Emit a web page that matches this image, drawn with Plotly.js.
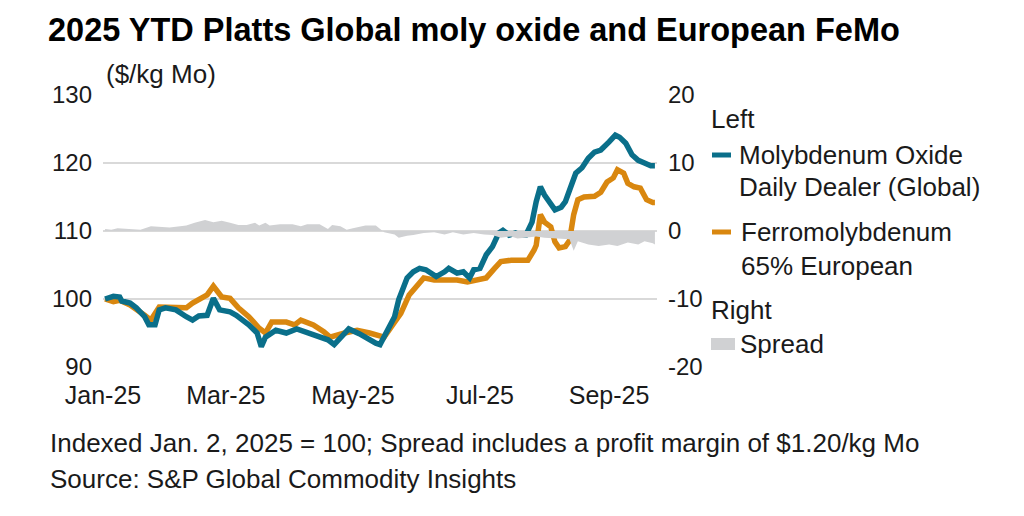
<!DOCTYPE html>
<html>
<head>
<meta charset="utf-8">
<script src="https://cdn.plot.ly/plotly-3.0.1.min.js"></script>
<style>
  html, body { margin: 0; padding: 0; background: #ffffff; }
  #chart { width: 1024px; height: 516px; }
</style>
</head>
<body>
<div id="chart"></div>
<script>
// Molybdenum oxide daily dealer (global), indexed Jan. 2, 2025 = 100
const oxideDates = [
  '2025-01-02','2025-01-06','2025-01-09','2025-01-10','2025-01-14','2025-01-17','2025-01-21','2025-01-23',
  '2025-01-26','2025-01-28','2025-01-31','2025-02-05','2025-02-10','2025-02-13','2025-02-16','2025-02-20',
  '2025-02-23','2025-02-26','2025-03-03','2025-03-06','2025-03-12','2025-03-16','2025-03-18','2025-03-20',
  '2025-03-25','2025-03-30','2025-04-04','2025-04-09','2025-04-15','2025-04-19','2025-04-22','2025-04-25',
  '2025-04-29','2025-05-04','2025-05-09','2025-05-12','2025-05-14','2025-05-16','2025-05-21','2025-05-23',
  '2025-05-27','2025-05-30','2025-06-02','2025-06-05','2025-06-10','2025-06-14','2025-06-16','2025-06-20',
  '2025-06-23','2025-06-26','2025-06-28','2025-07-01','2025-07-04','2025-07-07','2025-07-10','2025-07-12',
  '2025-07-15','2025-07-18','2025-07-20','2025-07-23','2025-07-26','2025-07-28','2025-07-30','2025-08-01',
  '2025-08-04','2025-08-06','2025-08-09','2025-08-11','2025-08-13','2025-08-16','2025-08-19','2025-08-22',
  '2025-08-25','2025-08-28','2025-09-01','2025-09-04','2025-09-06','2025-09-09','2025-09-12','2025-09-15',
  '2025-09-18','2025-09-21','2025-09-23'
];
const oxideValues = [
  100.0, 100.4, 100.3, 99.7, 99.4, 98.7, 97.4, 96.2,
  96.2, 98.4, 98.7, 98.4, 97.4, 96.9, 97.5, 97.6,
  100.1, 98.4, 98.1, 97.6, 96.2, 95.0, 93.0, 94.4,
  95.4, 95.0, 95.6, 95.0, 94.3, 94.0, 93.3, 94.3,
  95.6, 94.9, 93.9, 93.5, 93.3, 94.4, 97.4, 99.9,
  103.1, 104.0, 104.5, 104.3, 103.3, 104.0, 104.5, 103.8,
  104.0, 103.1, 104.3, 104.5, 106.5, 107.7, 109.7, 110.1,
  109.4, 109.7, 109.4, 109.4, 111.3, 114.3, 116.5, 115.3,
  113.8, 113.1, 113.5, 114.3, 116.0, 118.5, 119.3, 120.7,
  121.6, 121.9, 123.1, 124.1, 123.8, 122.9, 121.2, 120.4,
  120.0, 119.6, 119.6
];

// Ferromolybdenum 65% European, indexed Jan. 2, 2025 = 100
const femoDates = [
  '2025-01-02','2025-01-06','2025-01-09','2025-01-14','2025-01-21','2025-01-24','2025-01-28','2025-02-05',
  '2025-02-10','2025-02-13','2025-02-20','2025-02-23','2025-02-27','2025-03-03','2025-03-07','2025-03-12',
  '2025-03-17','2025-03-20','2025-03-23','2025-03-30','2025-04-03','2025-04-06','2025-04-12','2025-04-17',
  '2025-04-20','2025-04-27','2025-05-03','2025-05-09','2025-05-12','2025-05-16','2025-05-21','2025-05-24',
  '2025-05-28','2025-05-31','2025-06-04','2025-06-09','2025-06-20','2025-06-25','2025-06-29','2025-07-04',
  '2025-07-08','2025-07-11','2025-07-16','2025-07-24','2025-07-27','2025-07-28','2025-07-30','2025-08-01',
  '2025-08-04','2025-08-06','2025-08-08','2025-08-11','2025-08-13','2025-08-15','2025-08-17','2025-08-20',
  '2025-08-25','2025-08-28','2025-08-31','2025-09-03','2025-09-05','2025-09-08','2025-09-10','2025-09-13',
  '2025-09-16','2025-09-19','2025-09-22','2025-09-23'
];
const femoValues = [
  100.0, 99.6, 99.8, 99.1, 97.6, 96.9, 98.8, 98.8,
  98.7, 99.4, 100.6, 101.9, 100.3, 100.1, 98.7, 97.4,
  95.7, 95.0, 96.6, 96.6, 96.2, 96.9, 96.2, 95.2,
  94.4, 95.0, 95.4, 95.0, 94.7, 94.4, 96.6, 97.9,
  100.6, 101.8, 103.1, 102.8, 102.8, 102.5, 102.8, 103.1,
  104.5, 105.5, 105.7, 105.7, 107.2, 107.9, 112.4, 111.3,
  110.6, 108.4, 107.5, 107.7, 108.6, 112.4, 114.6, 115.0,
  115.1, 115.7, 117.2, 117.8, 119.0, 118.5, 117.0, 116.5,
  116.3, 114.6, 114.2, 114.2
];

// Spread ($/kg Mo), right axis
const spreadDates = [
  '2025-01-02','2025-01-05','2025-01-08','2025-01-14','2025-01-19','2025-01-24','2025-01-28','2025-02-02',
  '2025-02-07','2025-02-10','2025-02-14','2025-02-19','2025-02-23','2025-02-27','2025-03-03','2025-03-07',
  '2025-03-11','2025-03-15','2025-03-17','2025-03-20','2025-03-22','2025-03-27','2025-04-02','2025-04-06',
  '2025-04-09','2025-04-15','2025-04-19','2025-04-21','2025-04-25','2025-04-28','2025-05-01','2025-05-07',
  '2025-05-12','2025-05-16','2025-05-21','2025-05-23','2025-05-27','2025-05-30','2025-06-04','2025-06-09',
  '2025-06-14','2025-06-18','2025-06-23','2025-06-28','2025-07-03','2025-07-07','2025-07-11','2025-07-16',
  '2025-07-19','2025-07-23','2025-07-28','2025-08-01','2025-08-08','2025-08-13','2025-08-15','2025-08-17',
  '2025-08-22','2025-08-27','2025-09-01','2025-09-05','2025-09-10','2025-09-15','2025-09-18','2025-09-22',
  '2025-09-23'
];
const spreadValues = [
  0.3, 0.2, 0.4, 0.3, 0.2, 0.7, 0.6, 0.5,
  0.7, 0.8, 1.2, 1.6, 1.3, 1.5, 1.2, 0.9,
  0.9, 1.2, 0.8, 1.2, 0.8, 1.0, 1.0, 0.7,
  1.0, 1.0, 0.3, 0.9, 0.7, 0.2, 0.4, 0.8,
  0.8, -0.2, -0.5, -1.0, -0.7, -0.6, -0.3, -0.2,
  -0.5, -0.2, -0.5, -0.3, -0.5, -0.6, -1.0, -0.8,
  -1.1, -1.0, -0.8, -1.0, -1.1, -1.2, -2.9, -1.5,
  -2.0, -2.2, -2.0, -2.2, -1.7, -2.0, -1.5, -1.8,
  -2.0
];

// Axis ticks
const leftTicks = [90, 100, 110, 120, 130];
const rightTicks = [-20, -10, 0, 10, 20];
const rightTickText = rightTicks.map(String);
const monthTicks = ['2025-01-01', '2025-03-01', '2025-05-01', '2025-07-01', '2025-09-01'];

// Legend and note text
const legendLeftTitle = 'Left';
const legendRightTitle = 'Right';
const oxideName = ['Molybdenum Oxide', 'Daily Dealer (Global)'];
const femoName = ['Ferromolybdenum', '65% European'];
const spreadName = 'Spread';
const unitLabel = '($/kg Mo)';
const noteLines = [
  'Indexed Jan. 2, 2025 = 100; Spread includes a profit margin of $1.20/kg Mo',
  'Source: S&P Global Commodity Insights'
];

const TEAL = '#0a6f8a';
const ORANGE = '#d9870f';
const GREY = '#d0d1d3';
const TEXT = '#1a1a1a';
const FONT = 'Liberation Sans, Arial, sans-serif';

// Plot frame in page pixels
const W = 1024, H = 516;
const L = 103, R = 657, T = 95, B = 367;
const px = x => (x - L) / (R - L);
const py = y => (B - y) / (B - T);

const traces = [
  {
    x: spreadDates, y: spreadValues, yaxis: 'y2', type: 'scatter', mode: 'lines',
    fill: 'tozeroy', fillcolor: GREY, line: { width: 0, color: GREY },
    hoverinfo: 'skip', showlegend: false
  },
  {
    x: femoDates, y: femoValues, type: 'scatter', mode: 'lines',
    line: { color: ORANGE, width: 5.5 }, showlegend: false
  },
  {
    x: oxideDates, y: oxideValues, type: 'scatter', mode: 'lines',
    line: { color: TEAL, width: 5.5 }, showlegend: false
  }
];

const annotations = [
  { text: unitLabel, x: px(104), y: py(74), xanchor: 'left', yanchor: 'middle' },
  { text: legendLeftTitle, x: px(709), y: py(119), xanchor: 'left', yanchor: 'middle' },
  { text: oxideName[0], x: px(737), y: py(155), xanchor: 'left', yanchor: 'middle' },
  { text: oxideName[1], x: px(737), y: py(187), xanchor: 'left', yanchor: 'middle' },
  { text: femoName[0], x: px(739), y: py(232), xanchor: 'left', yanchor: 'middle' },
  { text: femoName[1], x: px(739), y: py(266), xanchor: 'left', yanchor: 'middle' },
  { text: legendRightTitle, x: px(709), y: py(310), xanchor: 'left', yanchor: 'middle' },
  { text: spreadName, x: px(738), y: py(344), xanchor: 'left', yanchor: 'middle' },
  { text: noteLines[0], x: px(48), y: py(443), xanchor: 'left', yanchor: 'middle' },
  { text: noteLines[1], x: px(48), y: py(479), xanchor: 'left', yanchor: 'middle' }
].map(a => Object.assign({
  xref: 'paper', yref: 'paper', showarrow: false,
  font: { family: FONT, size: 26, color: TEXT }
}, a));

const shapes = [
  { type: 'line', x0: px(712), x1: px(731), y0: py(155), y1: py(155), line: { color: TEAL, width: 5 } },
  { type: 'line', x0: px(712), x1: px(731), y0: py(232), y1: py(232), line: { color: ORANGE, width: 5 } },
  { type: 'rect', x0: px(711), x1: px(735), y0: py(338), y1: py(350), fillcolor: GREY, line: { width: 0 } }
].map(s => Object.assign({ xref: 'paper', yref: 'paper' }, s));

const layout = {
  width: W, height: H,
  paper_bgcolor: '#ffffff', plot_bgcolor: '#ffffff',
  margin: { l: L, r: W - R, t: T, b: H - B, pad: 0 },
  showlegend: false,
  title: {
    text: '<b>2025 YTD Platts Global moly oxide and European FeMo</b>',
    xref: 'container', yref: 'container',
    x: 48 / W, xanchor: 'left', y: 1 - 30 / H, yanchor: 'middle',
    font: { family: FONT, size: 32.5, color: '#000000' }
  },
  xaxis: {
    type: 'date',
    range: ['2025-01-01', '2025-09-24'],
    tickvals: monthTicks, tickformat: '%b-%y',
    showgrid: false, zeroline: false, showline: false,
    ticks: '', ticklabelstandoff: 11,
    tickfont: { family: FONT, size: 25, color: TEXT },
    fixedrange: true
  },
  yaxis: {
    range: [90, 130], tickvals: leftTicks,
    showgrid: true, gridcolor: '#d9d9d9', gridwidth: 2,
    zeroline: false, showline: false, ticks: '',
    ticklabelstandoff: 10,
    tickfont: { family: FONT, size: 24, color: TEXT },
    fixedrange: true
  },
  yaxis2: {
    overlaying: 'y', side: 'right',
    range: [-20, 20], tickvals: rightTicks, ticktext: rightTickText,
    showgrid: false, zeroline: false, showline: false, ticks: '',
    ticklabelstandoff: 10,
    tickfont: { family: FONT, size: 24, color: TEXT },
    fixedrange: true
  },
  annotations: annotations,
  shapes: shapes
};

Plotly.newPlot('chart', traces, layout, { displayModeBar: false, staticPlot: true });
</script>
</body>
</html>
